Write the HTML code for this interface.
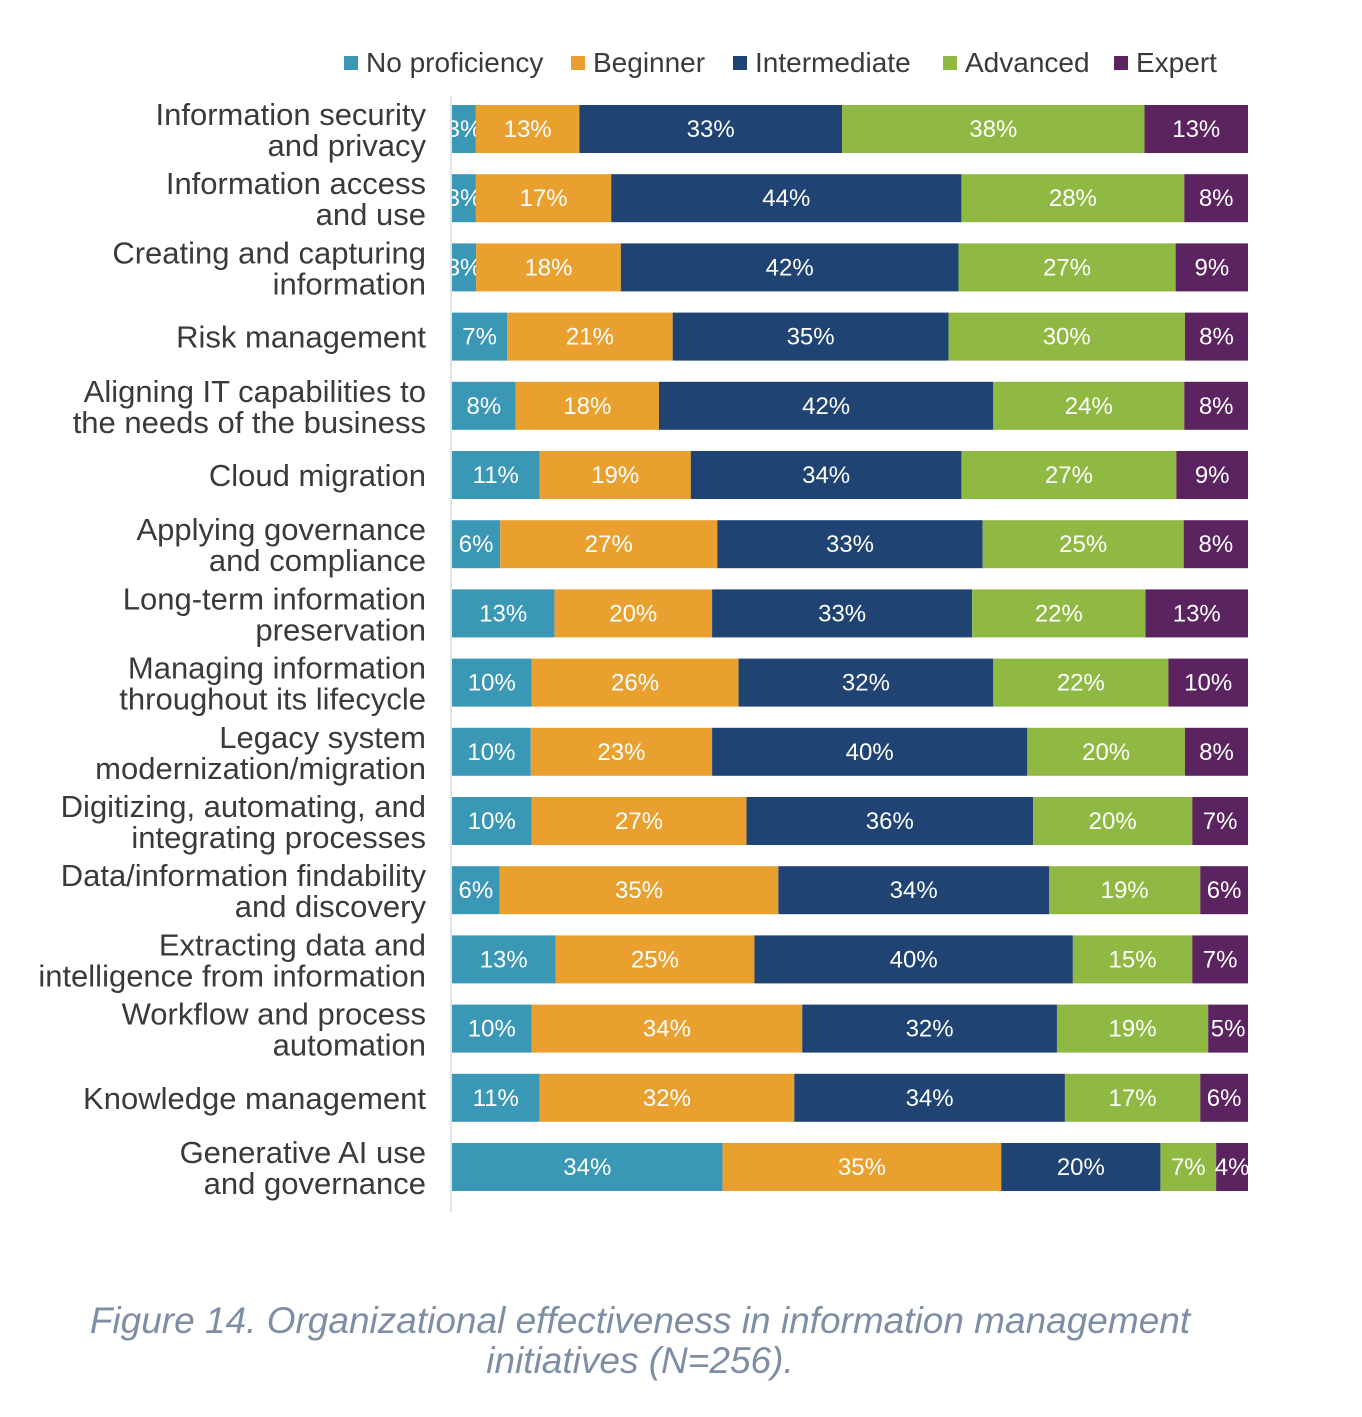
<!DOCTYPE html>
<html><head><meta charset="utf-8"><style>
body{margin:0;background:#fff;}
svg{display:block;}
</style></head><body>
<svg id="chart" width="1362" height="1417" xmlns="http://www.w3.org/2000/svg" font-family="Liberation Sans, sans-serif">
<g id="legend"></g>
<g id="bars"></g>
<line x1="451" y1="96" x2="451" y2="1212" stroke="#d9d9d9" stroke-width="1.5"/>
<text x="640" y="1333" text-anchor="middle" font-size="37" font-style="italic" fill="#7e8ea4">Figure 14. Organizational effectiveness in information management</text>
<text x="640" y="1373" text-anchor="middle" font-size="37" font-style="italic" fill="#7e8ea4">initiatives (N=256).</text>
</svg>
<script>
const categories = [
 ["Information security","and privacy"],["Information access","and use"],["Creating and capturing","information"],["Risk management"],
 ["Aligning IT capabilities to","the needs of the business"],["Cloud migration"],["Applying governance","and compliance"],
 ["Long-term information","preservation"],["Managing information","throughout its lifecycle"],["Legacy system","modernization/migration"],
 ["Digitizing, automating, and","integrating processes"],["Data/information findability","and discovery"],
 ["Extracting data and","intelligence from information"],["Workflow and process","automation"],["Knowledge management"],
 ["Generative AI use","and governance"]];
const seriesNames = ["No proficiency","Beginner","Intermediate","Advanced","Expert"];
const noProficiency = [3,3,3,7,8,11,6,13,10,10,10,6,13,10,11,34];
const beginner = [13,17,18,21,18,19,27,20,26,23,27,35,25,34,32,35];
const intermediate = [33,44,42,35,42,34,33,33,32,40,36,34,40,32,34,20];
const advanced = [38,28,27,30,24,27,25,22,22,20,20,19,15,19,17,7];
const expert = [13,8,9,8,8,9,8,13,10,8,7,6,7,5,6,4];
const colors = ["#3b97b6","#e9a02f","#1f4473","#8fb943","#5b2360"];
const series = [noProficiency,beginner,intermediate,advanced,expert];
const NS="http://www.w3.org/2000/svg";
const x0=452,x1=1248,rowTop=129,rowStep=69.2,barH=48;
const xScale=(v,total)=>(v/total)*(x1-x0);
const yScale=i=>rowTop+i*rowStep;
const bars=document.getElementById('bars');
function mk(tag,attrs,parent){const e=document.createElementNS(NS,tag);for(const k in attrs)e.setAttribute(k,attrs[k]);parent.appendChild(e);return e;}
categories.forEach((cat,i)=>{
 const cy=yScale(i);
 const vals=series.map(s=>s[i]);
 const total=vals.reduce((a,b)=>a+b,0);
 let x=x0;
 vals.forEach((v,j)=>{
  const w=xScale(v,total);
  const r=mk('rect',{x:x,y:cy-barH/2,width:w,height:barH,fill:colors[j]},bars);
  
  
  const t=mk('text',{x:x+w/2,y:cy+8,'text-anchor':'middle','font-size':24,fill:'#fff'},bars);
  t.textContent=v+'%';
  
  
  x+=w;
 });
 const lab=mk('text',{x:426,'text-anchor':'end','font-size':31,fill:'#3a3a3a'},bars);
 
 
 if(cat.length===1){lab.setAttribute('y',cy+11);lab.textContent=cat[0];}
 else{cat.forEach((line,k)=>{const ts=mk('tspan',{x:426,y:cy-4+k*31},lab);ts.textContent=line;});}
});
const legend=document.getElementById('legend');
const lx=[344,571,733,943,1114];
seriesNames.forEach((n,j)=>{
 const r=mk('rect',{x:lx[j],y:56,width:14,height:14,fill:colors[j]},legend);
 
 
 const t=mk('text',{x:lx[j]+22,y:72,'font-size':28,fill:'#3a3a3a'},legend);
 t.textContent=n;
 
 
});
</script>
</body></html>
